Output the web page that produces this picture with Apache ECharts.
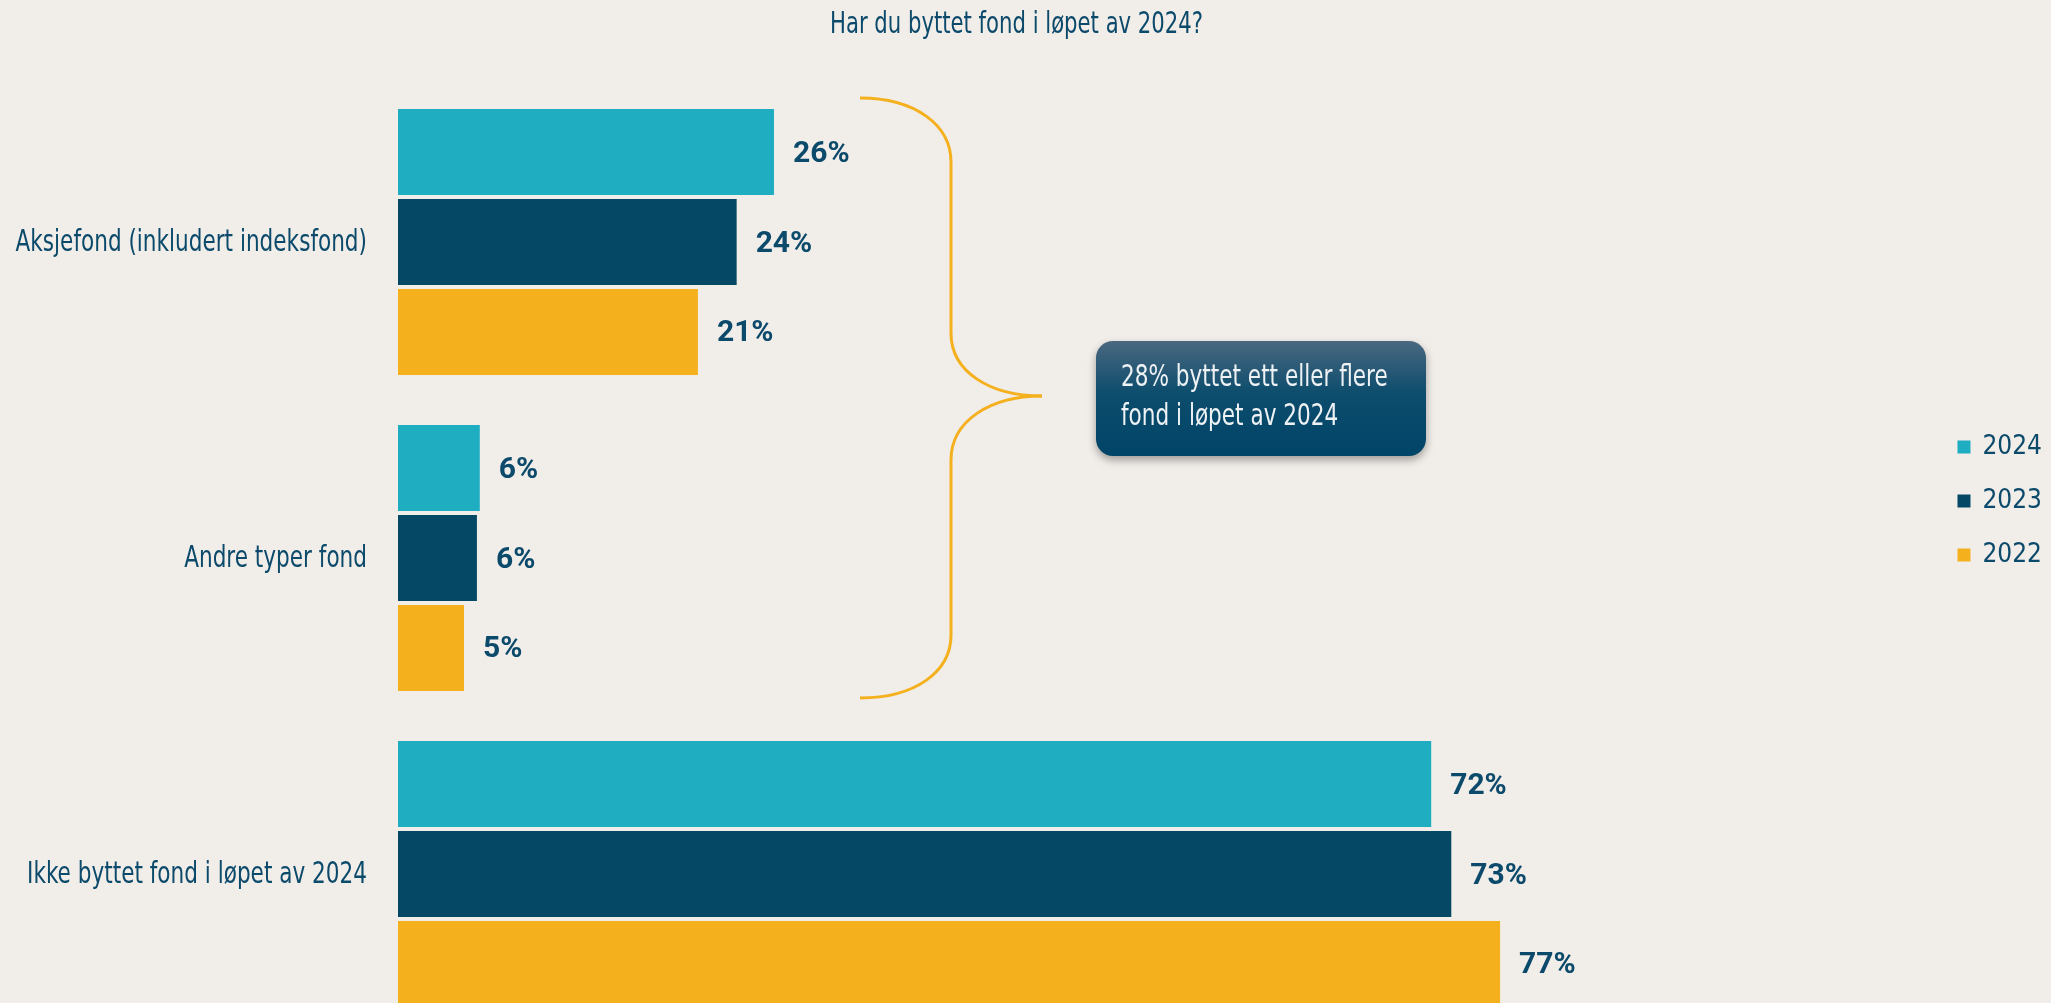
<!DOCTYPE html>
<html>
<head>
<meta charset="utf-8">
<script src="https://cdn.jsdelivr.net/npm/echarts@6/dist/echarts.min.js"></script>
<style>
html,body{margin:0;padding:0;background:#f1ede9;}
#c{width:2051px;height:1003px;}
</style>
</head>
<body>
<div id="c"></div>
<script>
const FONT = '"DejaVu Sans Condensed", "Roboto", sans-serif';
const BOLD_FONT = 'Roboto, "DejaVu Sans Condensed", sans-serif';
const TEXT = '#0c4a6b';
const NARROW = 0.79;

const categories = ['Aksjefond (inkludert indeksfond)', 'Andre typer fond', 'Ikke byttet fond i løpet av 2024'];
const seriesNames = ['2024', '2023', '2022'];
const values2024 = [26.2, 5.7, 72.0];
const values2023 = [23.6, 5.5, 73.4];
const values2022 = [20.9, 4.6, 76.8];
const colors = ['#1fadc1', '#044866', '#f5b01e'];
const titleText = 'Har du byttet fond i løpet av 2024?';
const noteLines = ['28% byttet ett eller flere', 'fond i løpet av 2024'];

const allValues = [values2024, values2023, values2022];

const chart = echarts.init(document.getElementById('c'), null, {renderer: 'canvas'});

const series = seriesNames.map((name, i) => ({
  name: name,
  type: 'bar',
  data: allValues[i],
  barWidth: 86,
  barGap: '4.6%',
  barCategoryGap: '15.8%',
  itemStyle: {color: colors[i]},
  label: {
    show: true,
    position: 'right',
    distance: 19,
    formatter: p => Math.round(p.value) + '%',
    fontFamily: BOLD_FONT,
    fontWeight: 'bold',
    fontSize: 30,
    color: TEXT,
    offset: [0, 2]
  },
  emphasis: {disabled: true}
}));

chart.setOption({
  backgroundColor: '#f1ede9',
  animation: false,
  legend: {
    orient: 'vertical',
    right: 4,
    top: 427,
    itemWidth: 13,
    itemHeight: 13,
    itemGap: 24,
    icon: 'rect',
    data: seriesNames,
    textStyle: {fontFamily: FONT, fontSize: 26, color: TEXT, lineHeight: 30, padding: [0, 0, 0, 7]}
  },
  grid: {left: 398, top: 84, width: 1435, height: 948, containLabel: false, outerBoundsMode: 'none'},
  xAxis: {
    type: 'value', min: 0, max: 100, show: false
  },
  yAxis: {
    type: 'category',
    inverse: true,
    data: categories,
    axisLine: {show: false},
    axisTick: {show: false},
    axisLabel: {show: false}
  },
  series: series
});

const BR = {stroke: '#f5b01e', lineWidth: 3, fill: 'none'};
const braceParts = [
  {type: 'bezierCurve', shape: {x1: 860, y1: 98, cpx1: 915, cpy1: 98, cpx2: 951, cpy2: 125, x2: 951, y2: 162}},
  {type: 'line', shape: {x1: 951, y1: 162, x2: 951, y2: 333}},
  {type: 'bezierCurve', shape: {x1: 951, y1: 333, cpx1: 951, cpy1: 372, cpx2: 990, cpy2: 396, x2: 1042, y2: 396}},
  {type: 'bezierCurve', shape: {x1: 1042, y1: 396, cpx1: 990, cpy1: 396, cpx2: 951, cpy2: 421, x2: 951, y2: 460}},
  {type: 'line', shape: {x1: 951, y1: 460, x2: 951, y2: 635}},
  {type: 'bezierCurve', shape: {x1: 951, y1: 635, cpx1: 951, cpy1: 672, cpx2: 915, cpy2: 698, x2: 860, y2: 698}}
].map(p => Object.assign(p, {style: BR, silent: true}));

function narrowText(txt, x, y, align, opts) {
  opts = opts || {};
  return {
    type: 'text',
    x: x, y: y,
    scaleX: opts.scale || NARROW,
    silent: true,
    style: {
      text: txt,
      fill: opts.color || TEXT,
      font: (opts.size || 30) + 'px ' + FONT,
      textAlign: align,
      textVerticalAlign: 'middle'
    }
  };
}

// category labels placed at the axis' own category positions
const labelEls = categories.map(c => {
  const y = chart.convertToPixel({yAxisIndex: 0}, c);
  return narrowText(c, 367, y + 1, 'right', {scale: 0.8});
});

try {
  chart.setOption({
    graphic: braceParts.concat([
      {
        type: 'rect',
        shape: {x: 1096, y: 341, width: 330, height: 115, r: 17},
        style: {
          fill: {
            type: 'linear', x: 0, y: 0, x2: 0, y2: 1,
            colorStops: [
              {offset: 0, color: '#4a6880'},
              {offset: 0.45, color: '#0d4d6d'},
              {offset: 1, color: '#004468'}
            ]
          },
          shadowBlur: 8,
          shadowOffsetY: 4,
          shadowColor: 'rgba(0,0,0,0.35)'
        }
      },
      narrowText(noteLines[0], 1121, 378, 'left', {color: '#eef2f4', scale: 0.8}),
      narrowText(noteLines[1], 1121, 417, 'left', {color: '#eef2f4', scale: 0.8}),
      narrowText(titleText, 830, 25, 'left', {scale: 0.785})
    ]).concat(labelEls)
  });
} catch (e) {
  console.error('graphic failed: ' + e.message);
}
</script>
</body>
</html>
